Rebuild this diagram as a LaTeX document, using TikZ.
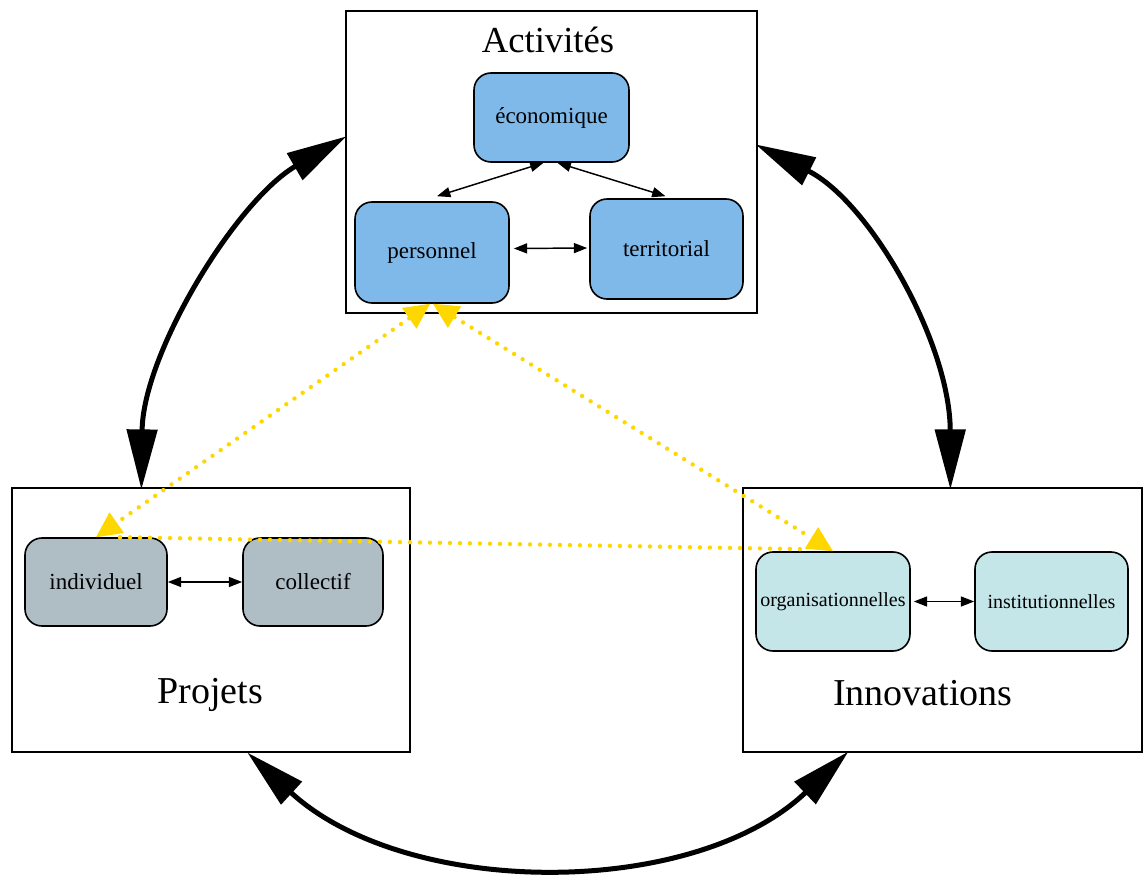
\documentclass[tikz,border=0pt]{standalone}
\usepackage{fontspec}
\setmainfont{Liberation Serif}
\usetikzlibrary{arrows.meta,positioning,calc}
\definecolor{actblue}{RGB}{127,185,233}
\definecolor{projgray}{RGB}{175,190,197}
\definecolor{innocyan}{RGB}{196,230,233}
\definecolor{linkgold}{RGB}{255,215,0}
\tikzset{
  cluster/.style={draw, line width=0.9pt, inner sep=0pt},
  item/.style={draw, line width=1.2pt, rounded corners=12.75pt, inner sep=0pt, font=\fontsize{17.25}{20}\selectfont},
  smallitem/.style={item, font=\fontsize{15}{18}\selectfont},
  title/.style={anchor=base, inner sep=0pt, font=\fontsize{28.5}{32}\selectfont},
  link/.style={line width=1.1pt, {Triangle[length=10pt,width=7.5pt]}-{Triangle[length=10pt,width=7.5pt]}},
  bigarc/.style={line width=3.75pt, {Triangle[length=45pt,width=22.5pt]}-{Triangle[length=45pt,width=22.5pt]}},
  cross/.style={linkgold, line width=3.3pt, line cap=round, dash pattern=on 0pt off 7.5pt},
  crosstips/.style={{Triangle[length=19pt,width=19pt,line width=0pt,fill=linkgold]}-{Triangle[length=19pt,width=19pt,line width=0pt,fill=linkgold]}}
}

\begin{document}
\begin{tikzpicture}[x=0.75pt,y=0.75pt,yscale=-1,xscale=1]
    \useasboundingbox (0,0) rectangle (1146,877);

    % Clusters
    \node [cluster, minimum width=308.25pt, minimum height=226.5pt] (act) at (551.5,162) {};
    \node [cluster, minimum width=298.5pt, minimum height=198pt] (proj) at (211,620) {};
    \node [cluster, minimum width=299.25pt, minimum height=198pt] (inno) at (942.5,620) {};

    % Titles
    \node [title, font=\fontsize{27.5}{32}\selectfont] (acttitle) at (548,53) {Activités};
    \node [title] (projtitle) at (210,703) {Projets};
    \node [title] (innotitle) at (923,705) {Innovations};

    % Text Node
    \node [item, fill=actblue, minimum width=116.25pt, minimum height=66.75pt] (eco) at (551.5,117.5) {économique};
    \node [item, fill=actblue, minimum width=115.5pt, minimum height=75.75pt] (pers) at (432,252.5) {personnel};
    \node [item, fill=actblue, minimum width=114.75pt, minimum height=75pt] (terr) at (666.5,249) {territorial};
    % Text Node
    \node [item, fill=projgray, minimum width=106.5pt, minimum height=66pt] (indiv) at (96,582) {individuel};
    \node [item, fill=projgray, minimum width=105pt, minimum height=66pt] (coll) at (313,582) {collectif};
    % Text Node
    \node [smallitem, fill=innocyan, minimum width=115.5pt, minimum height=74.25pt] (org) at (833,601.5) {organisationnelles};
    \node [smallitem, fill=innocyan, minimum width=114.75pt, minimum height=74.25pt] (inst) at (1051.5,601.5) {institutionnelles};

    % Links inside clusters
    \draw [link] ($(eco.south)+(-8,0)$) -- ($(pers.north)+(5,-5)$);
    \draw [link] ($(eco.south)+(6,0)$) -- ($(terr.north)+(-1,-2)$);
    \draw [link] ($(pers.east)+(4,-4)$) -- ($(terr.west)+(-2,-1)$);
    \draw [link] (indiv.east) -- (coll.west);
    \draw [link] ($(org.east)+(3,0)$) -- (inst.west);

    % Links between clusters
    \draw [bigarc] ($(act.north west)+(1,126)$) .. controls (236,201) and (143,353) .. ($(proj.north west)+(130,2)$);
    \draw [bigarc] ($(act.north east)+(-2,134)$) .. controls (870,202) and (950,343) .. ($(inno.north west)+(208,2)$);
    \draw [bigarc] ($(proj.south west)+(236,0)$) .. controls (407,899) and (694,899) .. ($(inno.south west)+(106,-1)$);

    % Dotted links
    \draw [cross, crosstips] ($(pers.south)+(-2,0)$) -- (indiv.north);
    \draw [cross, crosstips] ($(pers.south)+(1,0)$) -- (org.north);
    \draw [cross] ($(indiv.north)+(24,0)$) -- ($(org.north)+(-28,-2)$);

\end{tikzpicture}
\end{document}
